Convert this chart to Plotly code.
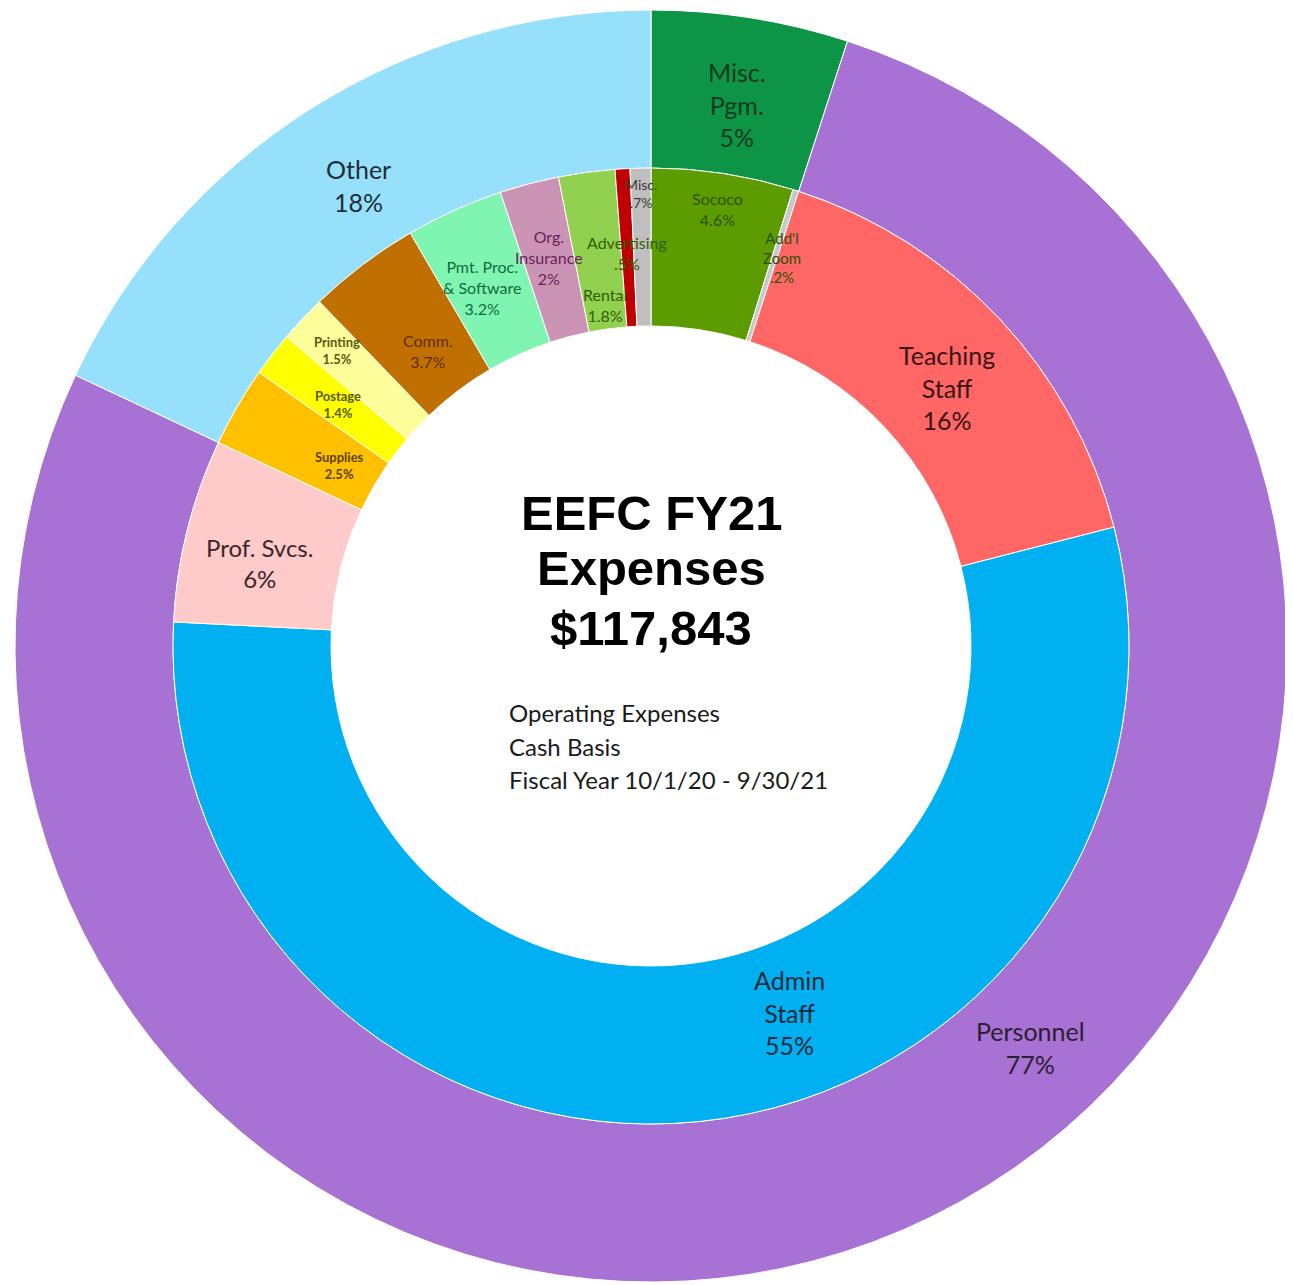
import math
import plotly.graph_objects as go

# ---------------- data ----------------
outer_labels = ["Misc.<br>Pgm.<br>5%", "Personnel<br>77%", "Other<br>18%"]
outer_values = [5.0, 77.0, 18.0]
outer_colors = ["#0e9447", "#a772d4", "#96e0fc"]
outer_text_colors = ["#0b3b1c", "#2a2030", "#1e2e38"]

inner_labels = ["Sococo<br>4.6%", "Add'l<br>Zoom<br>.2%", "Teaching<br>Staff<br>16%",
                "Admin<br>Staff<br>55%", "Prof. Svcs.<br>6%", "<b>Supplies</b><br><b>2.5%</b>",
                "<b>Postage</b><br><b>1.4%</b>", "<b>Printing</b><br><b>1.5%</b>", "Comm.<br>3.7%",
                "Pmt. Proc.<br>& Software<br>3.2%", "Org.<br>Insurance<br>2%",
                "Rental<br>1.8%", "Advertising<br>.5%", "Misc.<br>.7%"]
inner_values = [4.8, 0.2, 16.0, 54.8, 6.2, 2.7, 1.5, 1.6, 3.8, 3.3, 2.0, 1.9, 0.5, 0.7]
inner_colors = ["#5c9c00", "#c8c8c8", "#ff6666", "#00b0f0", "#ffcaca", "#ffc000",
                "#ffff00", "#fdfd9a", "#c07000", "#80f5b2", "#cc94b4", "#92d050",
                "#c00000", "#bfbfbf"]
inner_text_colors = ["#2f5200", "#2f5200", "#3a1414", "#0d2a3a", "#3a2626", "#5c4300",
                     "#5a5a00", "#5a5a10", "#5e2c00", "#0f6b3a", "#6a1f5a", "#2f5f00",
                     "#2f6000", "#3a3a3a"]

title_lines = ["EEFC FY21", "Expenses", "$117,843"]
subtitle_lines = ["Operating Expenses", "Cash Basis", "Fiscal Year 10/1/20 - 9/30/21"]

# ---------------- layout / geometry ----------------
W, H = 1293, 1285
OFF = 8                    # default page body margin
CX, CY = 651 - OFF, 646 - OFF   # pixel centre of the rings within the figure
R_OUT, R_MID, R_IN = 636, 478, 320

# label placement: (angle offset deg, radius px, font size)
outer_place = [(0, 548, 25), (-20, 552, 25), (0, 545, 25)]
inner_place = [(0, 442, 16), (1, 410, 15), (2, 393, 25), (-15, 392, 25), (-2, 400, 24),
               (0, 360, 13), (0, 395, 13), (0, 431, 13), (0, 370, 16), (-1, 396, 16),
               (0, 402, 16), (0, 344, 16), (0, 394, 16), (0, 453, 14)]


def dom(r):
    return dict(x=[(CX - r) / W, (CX + r) / W],
                y=[(H - CY - r) / H, (H - CY + r) / H])


fig = go.Figure()
fig.add_trace(go.Pie(values=outer_values, labels=[l.replace("<br>", " ") for l in outer_labels],
                     marker=dict(colors=outer_colors, line=dict(color="white", width=1)),
                     hole=R_MID / R_OUT, sort=False, direction="clockwise", rotation=0,
                     textinfo="none", domain=dom(R_OUT), showlegend=False))
fig.add_trace(go.Pie(values=inner_values, labels=[l.replace("<br>", " ") for l in inner_labels],
                     marker=dict(colors=inner_colors, line=dict(color="white", width=1)),
                     hole=R_IN / R_MID, sort=False, direction="clockwise", rotation=0,
                     textinfo="none", domain=dom(R_MID), showlegend=False))

annotations = []


def add_labels(labels, values, places, colors):
    total = sum(values)
    cum = 0.0
    for lab, v, (dth, r, fs), col in zip(labels, values, places, colors):
        mid = (cum + v / 2) / total * 360 + dth
        cum += v
        a = math.radians(mid)
        px = CX + r * math.sin(a)
        py = CY - r * math.cos(a)
        annotations.append(dict(x=px / W, y=1 - py / H, xref="paper", yref="paper",
                                text=lab, showarrow=False, xanchor="center", yanchor="middle",
                                font=dict(family="Lato", size=fs, color=col)))


add_labels(outer_labels, outer_values, outer_place, outer_text_colors)
add_labels(inner_labels, inner_values, inner_place, inner_text_colors)

for i, t in enumerate(title_lines):
    py = [513, 568, 628][i] - OFF
    annotations.append(dict(x=CX / W, y=1 - py / H, xref="paper", yref="paper", text="<b>%s</b>" % t,
                            showarrow=False, xanchor="center", yanchor="middle",
                            font=dict(family="Liberation Sans", size=49, color="black")))
for i, t in enumerate(subtitle_lines):
    py = [712, 746, 779][i] - OFF
    annotations.append(dict(x=(507 - OFF) / W, y=1 - py / H, xref="paper", yref="paper", text=t,
                            showarrow=False, xanchor="left", yanchor="middle",
                            font=dict(family="Lato", size=24, color="#1a1a1a")))

fig.update_layout(width=W, height=H, margin=dict(l=0, r=0, t=0, b=0),
                  paper_bgcolor="white", plot_bgcolor="white", annotations=annotations)
fig.write_html("out.html")
